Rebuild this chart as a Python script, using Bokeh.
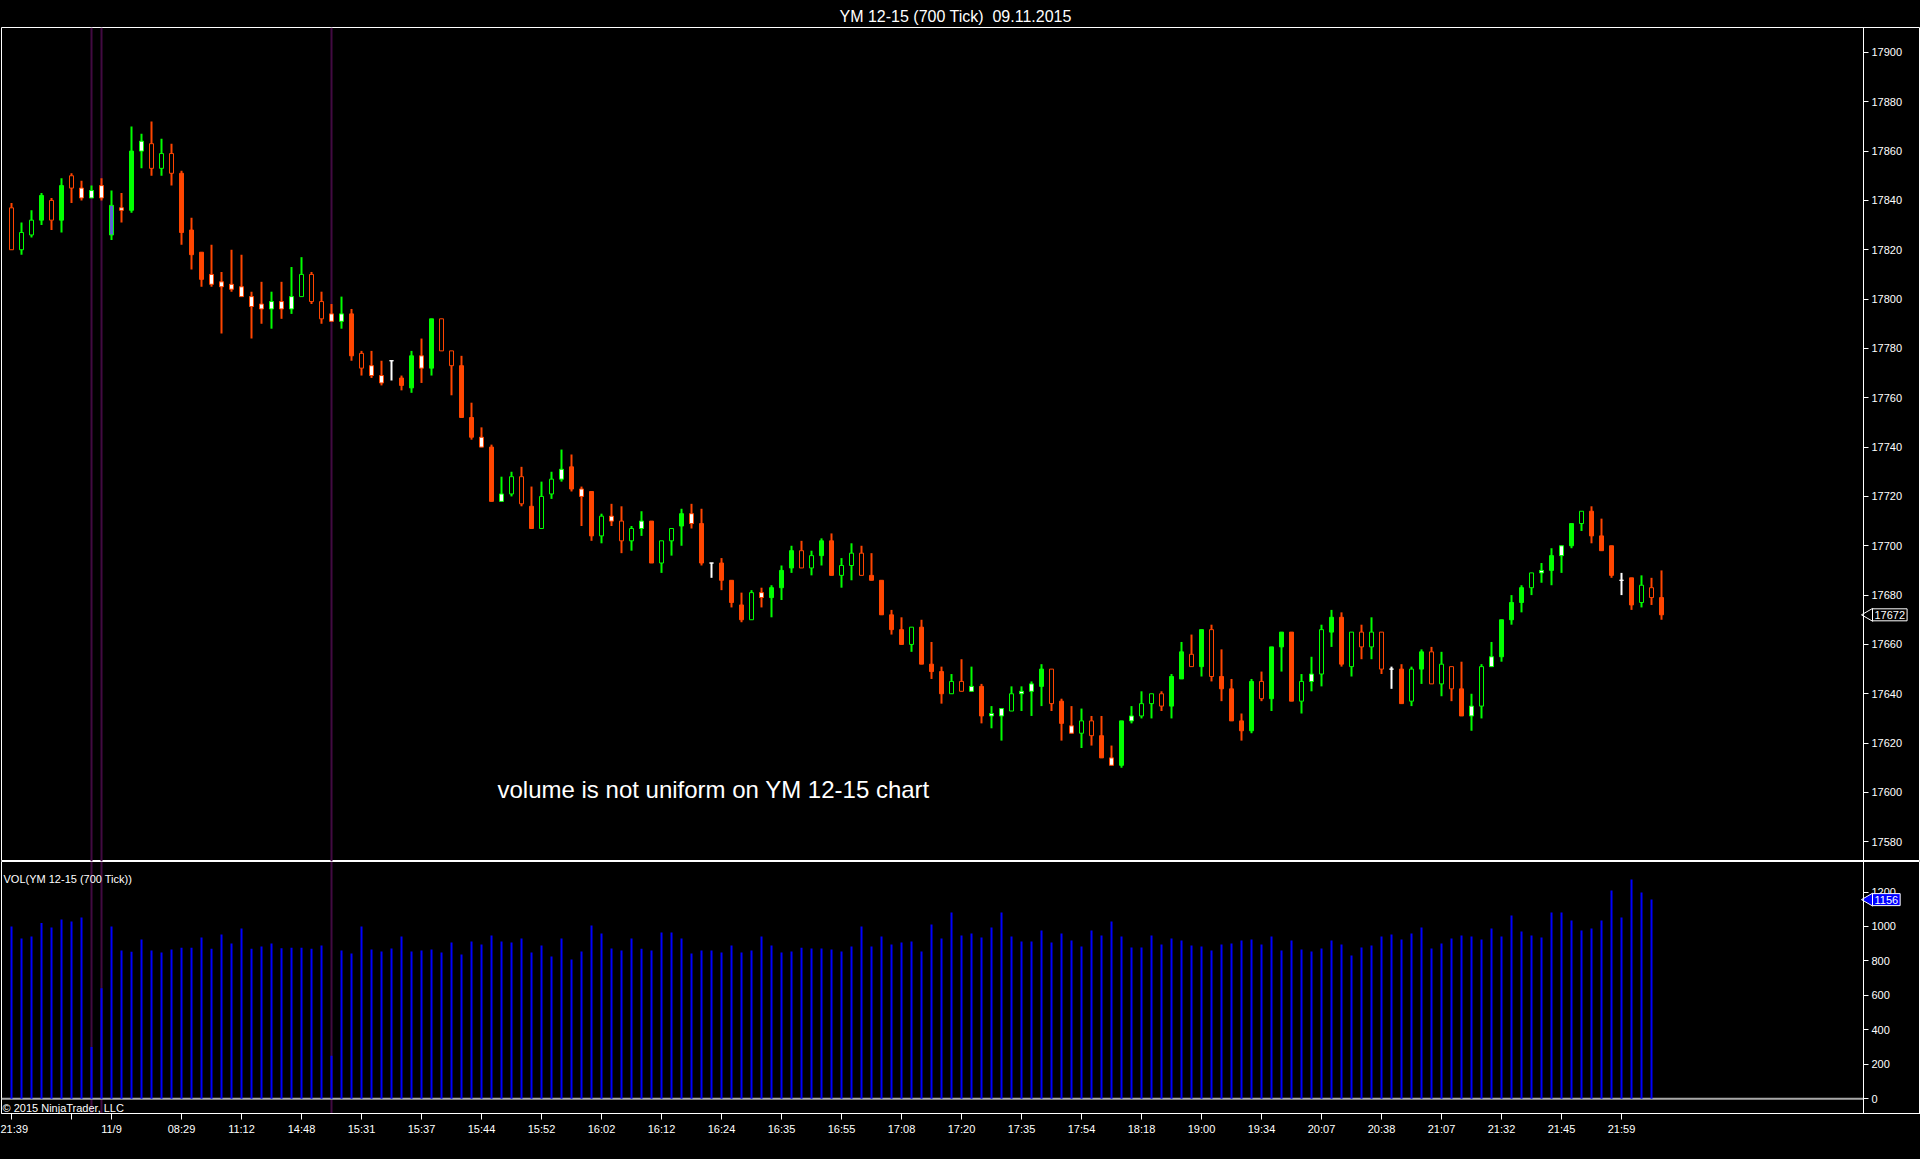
import math
from bokeh.plotting import figure
from bokeh.layouts import column
from bokeh.models import Range1d, FixedTicker, Span, Label, ColumnDataSource, GlobalInlineStyleSheet
from bokeh.embed import file_html
from bokeh.resources import INLINE

# ---------------- data (YM 12-15, 700 tick bars) ----------------
opens = [17837, 17820, 17826, 17832, 17840, 17832, 17850, 17845, 17841, 17846,
         17826, 17837, 17836, 17860, 17863, 17853, 17859, 17851, 17828, 17819,
         17810, 17807, 17806, 17805, 17801, 17798, 17796, 17799, 17796, 17801,
         17810, 17799, 17794, 17791, 17794, 17778, 17773, 17769, 17775, 17768,
         17764, 17777, 17772, 17792, 17779, 17773, 17752, 17744, 17740, 17718,
         17721, 17728, 17716, 17707, 17721, 17727, 17732, 17723, 17722, 17704,
         17712, 17710, 17702, 17707, 17710, 17693, 17702, 17708, 17713, 17709,
         17693, 17693, 17686, 17676, 17670, 17681, 17679, 17683, 17691, 17698,
         17691, 17696, 17702, 17688, 17692, 17697, 17688, 17686, 17672, 17666,
         17660, 17667, 17652, 17649, 17640, 17645, 17641, 17643, 17631, 17631,
         17633, 17640, 17641, 17643, 17650, 17637, 17627, 17624, 17629, 17623,
         17614, 17611, 17629, 17631, 17636, 17640, 17635, 17646, 17656, 17651,
         17666, 17647, 17642, 17629, 17625, 17645, 17638, 17659, 17665, 17637,
         17645, 17648, 17665, 17671, 17651, 17665, 17659, 17665, 17650, 17650,
         17637, 17650, 17657, 17644, 17651, 17642, 17631, 17635, 17651, 17655,
         17670, 17677, 17683, 17689, 17690, 17696, 17700, 17709, 17714, 17704,
         17700, 17686, 17687, 17677, 17683, 17679]
highs = [17839, 17831, 17836, 17843, 17841, 17849, 17851, 17848, 17846, 17849,
         17844, 17843, 17870, 17867, 17872, 17865, 17863, 17852, 17833, 17819,
         17822, 17811, 17820, 17818, 17803, 17807, 17803, 17807, 17813, 17817,
         17811, 17803, 17798, 17801, 17796, 17779, 17779, 17775, 17775, 17769,
         17779, 17784, 17792, 17792, 17779, 17777, 17758, 17748, 17741, 17728,
         17730, 17732, 17724, 17726, 17730, 17739, 17737, 17724, 17722, 17713,
         17717, 17716, 17708, 17714, 17710, 17702, 17707, 17715, 17717, 17715,
         17693, 17695, 17686, 17681, 17682, 17683, 17684, 17692, 17700, 17702,
         17698, 17703, 17705, 17695, 17701, 17700, 17697, 17686, 17674, 17671,
         17667, 17670, 17661, 17651, 17648, 17654, 17651, 17644, 17635, 17634,
         17643, 17643, 17645, 17652, 17650, 17638, 17635, 17634, 17631, 17631,
         17619, 17629, 17635, 17641, 17640, 17641, 17648, 17661, 17664, 17666,
         17668, 17658, 17646, 17632, 17646, 17649, 17659, 17665, 17665, 17648,
         17655, 17668, 17674, 17673, 17665, 17668, 17671, 17665, 17651, 17652,
         17651, 17658, 17659, 17657, 17651, 17653, 17640, 17652, 17661, 17670,
         17680, 17684, 17689, 17693, 17699, 17700, 17709, 17714, 17716, 17711,
         17700, 17689, 17687, 17688, 17687, 17690]
lows = [17820, 17818, 17825, 17830, 17828, 17827, 17839, 17840, 17841, 17840,
        17824, 17831, 17835, 17853, 17850, 17850, 17846, 17822, 17812, 17805,
        17805, 17786, 17803, 17801, 17784, 17790, 17788, 17792, 17794, 17801,
        17798, 17790, 17791, 17788, 17775, 17769, 17768, 17765, 17767, 17763,
        17762, 17766, 17769, 17779, 17761, 17752, 17743, 17740, 17718, 17718,
        17720, 17716, 17707, 17707, 17719, 17726, 17722, 17708, 17702, 17701,
        17708, 17697, 17698, 17704, 17693, 17689, 17696, 17700, 17707, 17692,
        17687, 17682, 17675, 17669, 17670, 17675, 17671, 17678, 17689, 17691,
        17688, 17692, 17688, 17683, 17686, 17688, 17686, 17672, 17664, 17660,
        17657, 17652, 17646, 17636, 17640, 17641, 17641, 17628, 17626, 17621,
        17633, 17633, 17631, 17635, 17633, 17621, 17624, 17618, 17619, 17614,
        17611, 17610, 17628, 17630, 17630, 17633, 17630, 17646, 17651, 17647,
        17645, 17637, 17629, 17621, 17624, 17637, 17633, 17649, 17637, 17632,
        17641, 17643, 17659, 17651, 17647, 17654, 17654, 17648, 17642, 17636,
        17635, 17644, 17644, 17639, 17637, 17631, 17625, 17630, 17651, 17653,
        17668, 17673, 17680, 17685, 17684, 17689, 17699, 17706, 17701, 17698,
        17687, 17680, 17674, 17675, 17676, 17670]
closes = [17820, 17827, 17832, 17842, 17832, 17846, 17845, 17841, 17844, 17841,
          17838, 17836, 17860, 17864, 17853, 17859, 17851, 17827, 17818, 17808,
          17806, 17805, 17804, 17801, 17797, 17796, 17799, 17796, 17801, 17810,
          17799, 17792, 17791, 17794, 17777, 17772, 17769, 17766, 17775, 17765,
          17777, 17772, 17792, 17779, 17773, 17752, 17744, 17740, 17718, 17721,
          17728, 17717, 17707, 17720, 17727, 17731, 17723, 17720, 17704, 17712,
          17710, 17702, 17707, 17710, 17693, 17702, 17707, 17713, 17709, 17693,
          17693, 17686, 17677, 17670, 17681, 17679, 17683, 17690, 17698, 17691,
          17696, 17702, 17688, 17692, 17697, 17688, 17686, 17672, 17666, 17660,
          17667, 17652, 17649, 17640, 17645, 17641, 17643, 17631, 17632, 17634,
          17640, 17641, 17644, 17650, 17636, 17628, 17624, 17629, 17623, 17614,
          17611, 17629, 17631, 17636, 17640, 17635, 17647, 17657, 17651, 17666,
          17647, 17642, 17629, 17625, 17645, 17638, 17659, 17665, 17637, 17645,
          17648, 17666, 17671, 17652, 17665, 17659, 17665, 17650, 17650, 17636,
          17650, 17657, 17644, 17652, 17642, 17631, 17635, 17651, 17655, 17670,
          17677, 17683, 17689, 17690, 17696, 17700, 17709, 17714, 17704, 17698,
          17688, 17686, 17676, 17684, 17679, 17672]
# body style per bar: F filled, H hollow, W white body, B blue body, D doji
body_style = list(
    "HHHFHFHWWW" "BWFWHHHFFF" "WWWWWWWWWH" "HHWWFHWWDF" "FWFHHFFWFW"
    "HHFHHWFWFH" "WHHWFHHFWF" "DFFFHWFFFH" "HFFHHHFFFF" "HFFFHHWFWW"
    "HWWFHFWHHF" "WFWHHHFFHF" "HFFFFHFFFH" "WHFFHHHHDF" "HFHHHFWHWF"
    "FFHWFWFHFF" "FDFHHF"
)
volume = [1000, 931, 942, 1020, 994, 1041, 1029, 1052, 300, 642,
          1000, 861, 853, 925, 861, 849, 867, 876, 876, 936,
          871, 954, 902, 989, 871, 884, 902, 874, 876, 876,
          871, 890, 250, 861, 843, 1000, 867, 855, 872, 942,
          855, 861, 867, 849, 907, 838, 913, 896, 948, 913,
          907, 931, 849, 890, 826, 931, 809, 855, 1006, 960,
          872, 861, 931, 871, 861, 965, 965, 931, 843, 861,
          861, 849, 890, 849, 861, 942, 890, 849, 855, 876,
          872, 872, 867, 855, 884, 1000, 884, 942, 896, 907,
          913, 855, 1012, 931, 1081, 948, 960, 936, 994, 1081,
          942, 913, 913, 977, 907, 960, 919, 884, 977, 948,
          1029, 942, 878, 878, 948, 896, 931, 919, 890, 884,
          861, 896, 902, 919, 925, 896, 942, 861, 919, 867,
          855, 872, 919, 896, 832, 878, 890, 942, 954, 925,
          960, 994, 872, 902, 931, 948, 942, 925, 989, 942,
          1064, 971, 948, 936, 1081, 1081, 1035, 977, 989, 1035,
          1209, 1052, 1273, 1198, 1156]
time_tick_bars = [0, 6, 10, 17, 23, 29, 35, 41, 47, 53, 59, 65, 71, 77, 83, 89,
                  95, 101, 107, 113, 119, 125, 131, 137, 143, 149, 155, 161]
time_tick_labels = ["21:39", "", "11/9", "08:29", "11:12", "14:48", "15:31", "15:37",
                    "15:44", "15:52", "16:02", "16:12", "16:24", "16:35", "16:55", "17:08",
                    "17:20", "17:35", "17:54", "18:18", "19:00", "19:34", "20:07", "20:38",
                    "21:07", "21:32", "21:45", "21:59"]
session_break_bars = [8, 9, 32]
price_ticks = [17580, 17600, 17620, 17640, 17660, 17680, 17700, 17720, 17740,
               17760, 17780, 17800, 17820, 17840, 17860, 17880, 17900]
volume_ticks = [0, 200, 400, 600, 800, 1000, 1200]

assert len(opens) == len(highs) == len(lows) == len(closes) == len(body_style)

# ---------------- styling ----------------
GREEN = "#00ff00"
ORANGE = "#ff4500"
WHITE = "#ffffff"
BLUE_BODY = "#5a66d2"
VOL_BLUE = "#0000ff"
PURPLE = "#420a42"
FONT = "Liberation Sans"

X_START, X_END = -1.0, 190.9   # bar-index range over the full-width frame
AXIS_X = 185.2                  # where the price / volume axes sit

n = len(opens)
bar_x = list(range(n))
colors = [GREEN if c > o else (ORANGE if c < o else WHITE) for o, c in zip(opens, closes)]
fill_map = {"H": "#000000", "W": WHITE, "B": BLUE_BODY, "D": WHITE}
fills = [col if s == "F" else fill_map[s] for s, col in zip(body_style, colors)]
src = ColumnDataSource(dict(
    x=bar_x, high=highs, low=lows,
    top=[max(o, c) for o, c in zip(opens, closes)],
    bottom=[min(o, c) for o, c in zip(opens, closes)],
    color=colors, fill=fills,
))

x_range = Range1d(X_START, X_END)


def style_axis(ax, ticks):
    ax.ticker = FixedTicker(ticks=ticks)
    ax.axis_line_color = WHITE
    ax.major_tick_line_color = WHITE
    ax.major_tick_out = 5
    ax.major_tick_in = 0
    ax.minor_tick_line_color = None
    ax.major_label_text_color = WHITE
    ax.major_label_text_font = FONT
    ax.major_label_text_font_size = "11px"
    ax.major_label_standoff = 3


def marker_label(x, y, text, bg):
    kw = dict(x=x, y=y, x_offset=9, text=text, text_color=WHITE, text_font=FONT,
              text_font_size="11px", text_baseline="middle",
              background_fill_color=bg, border_line_color=WHITE)
    try:
        return Label(padding=2, **kw)
    except Exception:
        return Label(**kw)


# ---------------- price panel ----------------
p = figure(width=1920, height=861, x_range=x_range, y_range=Range1d(17572.0, 17910.1),
           output_backend="svg", toolbar_location=None, x_axis_location=None,
           y_axis_location="right", min_border_left=1, min_border_right=0,
           min_border_top=27, min_border_bottom=0,
           background_fill_color="black", border_fill_color="black",
           outline_line_color=WHITE, outline_line_width=1)
p.grid.visible = False
style_axis(p.yaxis[0], price_ticks)
p.yaxis[0].fixed_location = AXIS_X

p.title.text = "YM 12-15 (700 Tick)\u00a0 09.11.2015"
p.title.text_color = WHITE
p.title.text_font = FONT
p.title.text_font_size = "16px"
p.title.text_font_style = "normal"
p.title.align = "left"
p.title.offset = 838
p.title.standoff = 6

for b in session_break_bars:
    p.add_layout(Span(location=b, dimension="height", line_color=PURPLE,
                      line_width=2, level="underlay"))

p.segment(x0="x", y0="low", x1="x", y1="high", source=src, line_color="color", line_width=2)
p.vbar(x="x", width=0.4, top="top", bottom="bottom", source=src,
       fill_color="fill", line_color="color", line_width=1)

p.add_layout(Label(x=496, y=72, x_units="screen", y_units="screen",
                   text="volume is not uniform on YM 12-15 chart", text_color=WHITE,
                   text_font=FONT, text_font_size="24px", text_align="left",
                   text_baseline="middle"))

# last-price marker
p.scatter(x=[AXIS_X + 0.55], y=[closes[-1]], marker="triangle", size=13,
          angle=math.pi / 2, fill_color="black", line_color=WHITE, line_width=1)
p.add_layout(marker_label(AXIS_X, closes[-1], str(closes[-1]), "black"))

# ---------------- volume panel ----------------
v = figure(width=1920, height=298, x_range=x_range, y_range=Range1d(-85.3, 1377.2),
           output_backend="svg", toolbar_location=None, y_axis_location="right",
           min_border_left=1, min_border_right=0, min_border_top=0, min_border_bottom=46,
           background_fill_color="black", border_fill_color="black",
           outline_line_color=WHITE, outline_line_width=1)
v.grid.visible = False
style_axis(v.yaxis[0], volume_ticks)
v.yaxis[0].fixed_location = AXIS_X
xa = v.xaxis[0]
style_axis(xa, time_tick_bars)
xa.major_tick_out = 6
xa.major_label_overrides = {b: lab for b, lab in zip(time_tick_bars, time_tick_labels)}

for b in session_break_bars:
    v.add_layout(Span(location=b, dimension="height", line_color=PURPLE,
                      line_width=2, level="underlay"))
v.segment(x0=[X_START], y0=[0], x1=[AXIS_X], y1=[0], line_color="#a8a8a8", line_width=2)

v.vbar(x=list(range(len(volume))), top=volume, bottom=0, width=0.2,
       fill_color=VOL_BLUE, line_color=VOL_BLUE, line_width=0)

v.add_layout(Label(x=2, y=235, x_units="screen", y_units="screen",
                   text="VOL(YM 12-15 (700 Tick))", text_color=WHITE, text_font=FONT,
                   text_font_size="11px", text_baseline="middle"))
v.add_layout(Label(x=1, y=6, x_units="screen", y_units="screen",
                   text="© 2015 NinjaTrader, LLC", text_color=WHITE, text_font=FONT,
                   text_font_size="11px", text_baseline="middle"))

# last-volume marker
v.scatter(x=[AXIS_X + 0.55], y=[volume[-1]], marker="triangle", size=13,
          angle=math.pi / 2, fill_color=VOL_BLUE, line_color=WHITE, line_width=1)
v.add_layout(marker_label(AXIS_X, volume[-1], str(volume[-1]), VOL_BLUE))

layout = column(p, v, spacing=0)
layout.stylesheets = [GlobalInlineStyleSheet(
    css="html, body { margin: 0; padding: 0; background: #000; overflow: hidden; }")]

open("out.html", "w").write(file_html(layout, INLINE))
